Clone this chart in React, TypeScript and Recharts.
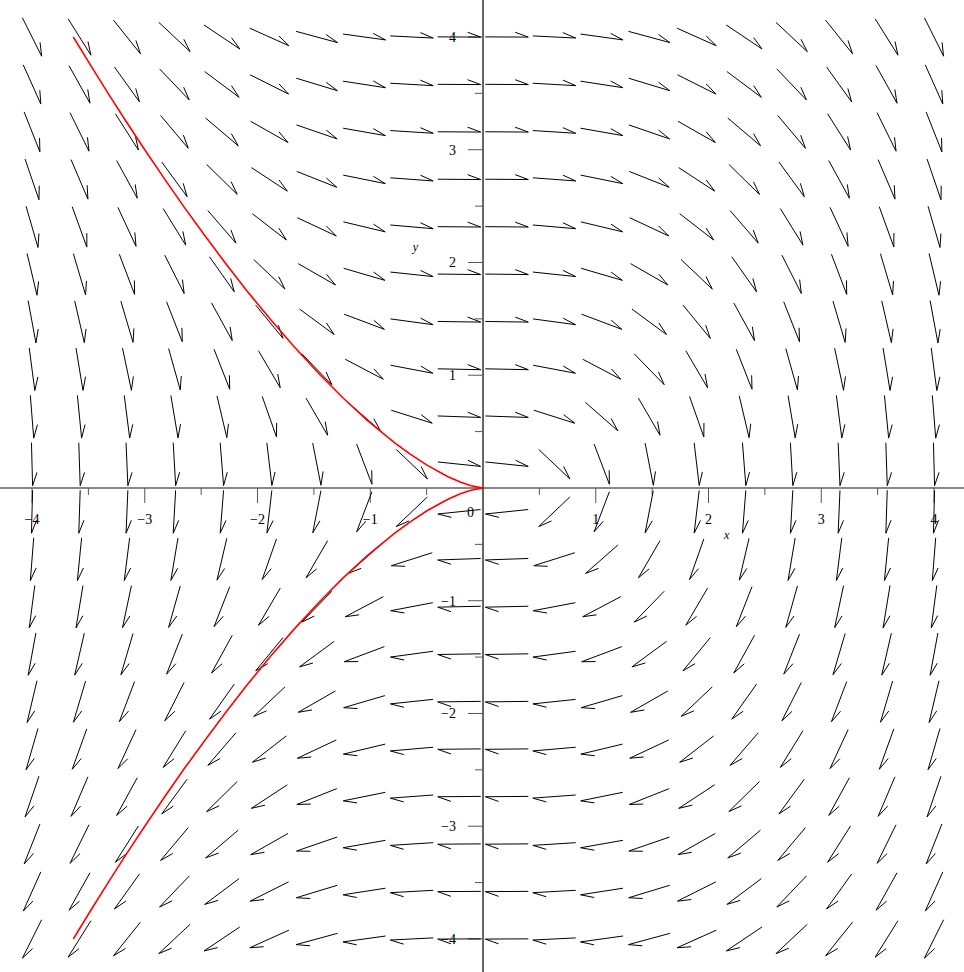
import React from 'react';
import { ScatterChart, Scatter, XAxis, YAxis, ReferenceLine } from 'recharts';

// grid points of the direction field
const gridX = [-4, -3.579, -3.158, -2.737, -2.316, -1.895, -1.474, -1.053, -0.632, -0.211, 0.211, 0.632, 1.053, 1.474, 1.895, 2.316, 2.737, 3.158, 3.579, 4];
const gridY = [4, 3.579, 3.158, 2.737, 2.316, 1.895, 1.474, 1.053, 0.632, 0.211, -0.211, -0.632, -1.053, -1.474, -1.895, -2.316, -2.737, -3.158, -3.579, -4];

// field components: horizontal part per row, vertical part per column
const rowDx = [4, 3.579, 3.158, 2.737, 2.316, 1.895, 1.474, 1.053, 0.632, 0.211, -0.211, -0.632, -1.053, -1.474, -1.895, -2.316, -2.737, -3.158, -3.579, -4];
const colDy = [-8, -6.404, -4.986, -3.746, -2.682, -1.795, -1.086, -0.554, -0.2, -0.022, -0.022, -0.2, -0.554, -1.086, -1.795, -2.682, -3.746, -4.986, -6.404, -8];

// red solution curve
const curveX = [-3.634, -3.481, -3.325, -3.165, -3.0, -2.831, -2.657, -2.476, -2.289, -2.095, -1.89, -1.673, -1.442, -1.243, -1.026, -0.783, -0.646, -0.493, -0.311, -0.196, -0.106, 0,
  -0.106, -0.196, -0.311, -0.493, -0.646, -0.783, -1.026, -1.243, -1.442, -1.673, -1.89, -2.095, -2.289, -2.476, -2.657, -2.831, -3.0, -3.165, -3.325, -3.481, -3.634];
const curveY = [4, 3.75, 3.5, 3.25, 3, 2.75, 2.5, 2.25, 2, 1.75, 1.5, 1.25, 1, 0.8, 0.6, 0.4, 0.3, 0.2, 0.1, 0.05, 0.02, 0,
  -0.02, -0.05, -0.1, -0.2, -0.3, -0.4, -0.6, -0.8, -1, -1.25, -1.5, -1.75, -2, -2.25, -2.5, -2.75, -3, -3.25, -3.5, -3.75, -4];

// ticks
const xMajorTicks = [-4, -3, -2, -1, 1, 2, 3, 4];
const xTickLabels = ['\u22124', '\u22123', '\u22122', '\u22121', '1', '2', '3', '4'];
const xMinorTicks = [-3.5, -2.5, -1.5, -0.5, 0.5, 1.5, 2.5, 3.5];
const yMajorTicks = [4, 3, 2, 1, -1, -2, -3, -4];
const yTickLabels = ['4', '3', '2', '1', '\u22121', '\u22122', '\u22123', '\u22124'];
const yMinorTicks = [3.5, 2.5, 1.5, 0.5, -0.5, -1.5, -2.5, -3.5];

const FONT = '"Liberation Serif", "Times New Roman", serif';

const arrows = gridY.flatMap((y, j) =>
  gridX.map((x, i) => ({ x, y, u: rowDx[j], v: colDy[i] }))
);
const curve = curveX.map((x, i) => ({ x, y: curveY[i] }));
const xMajor = xMajorTicks.map((x, i) => ({ x, y: 0, label: xTickLabels[i] }));
const xMinor = xMinorTicks.map((x) => ({ x, y: 0 }));
const yMajor = yMajorTicks.map((y, i) => ({ x: 0, y, label: yTickLabels[i] }));
const yMinor = yMinorTicks.map((y) => ({ x: 0, y }));
const axisNames = [
  { x: 2.16, y: -0.45, label: 'x' },
  { x: -0.6, y: 2.1, label: 'y' },
];
const origin = [{ x: 0, y: 0, label: '0' }];

const ARROW_LEN = 43;
const BARB_LEN = 14;
const BARB_ANG = (20 * Math.PI) / 180;

const Arrow = (props: any) => {
  const { cx, cy, payload } = props;
  if (cx == null || cy == null) return <g />;
  const sx = payload.u;
  const sy = -payload.v;
  const n = Math.hypot(sx, sy) || 1;
  const dx = sx / n;
  const dy = sy / n;
  const x1 = cx - (dx * ARROW_LEN) / 2;
  const y1 = cy - (dy * ARROW_LEN) / 2;
  const x2 = cx + (dx * ARROW_LEN) / 2;
  const y2 = cy + (dy * ARROW_LEN) / 2;
  const bx = -dx;
  const by = -dy;
  const rx = bx * Math.cos(BARB_ANG) - by * Math.sin(BARB_ANG);
  const ry = bx * Math.sin(BARB_ANG) + by * Math.cos(BARB_ANG);
  return (
    <g stroke="#000" strokeWidth={1} fill="none">
      <line x1={x1} y1={y1} x2={x2} y2={y2} />
      <line x1={x2} y1={y2} x2={x2 + rx * BARB_LEN} y2={y2 + ry * BARB_LEN} />
    </g>
  );
};

const XMajorTick = (props: any) => {
  const { cx, cy, payload } = props;
  return (
    <g>
      <line x1={cx} y1={cy} x2={cx} y2={cy + 15} stroke="#555" strokeWidth={1} />
      <text x={cx} y={cy + 36} textAnchor="middle" fontFamily={FONT} fontSize={14} fill="#000">
        {payload.label}
      </text>
    </g>
  );
};

const XMinorTick = (props: any) => {
  const { cx, cy } = props;
  return <line x1={cx} y1={cy} x2={cx} y2={cy + 7} stroke="#555" strokeWidth={1} />;
};

const YMajorTick = (props: any) => {
  const { cx, cy, payload } = props;
  return (
    <g>
      <line x1={cx - 15} y1={cy} x2={cx} y2={cy} stroke="#555" strokeWidth={1} />
      <text x={cx - 27} y={cy + 5} textAnchor="end" fontFamily={FONT} fontSize={14} fill="#000">
        {payload.label}
      </text>
    </g>
  );
};

const YMinorTick = (props: any) => {
  const { cx, cy } = props;
  return <line x1={cx - 8} y1={cy} x2={cx} y2={cy} stroke="#555" strokeWidth={1} />;
};

const NameLabel = (props: any) => {
  const { cx, cy, payload } = props;
  return (
    <text x={cx} y={cy} textAnchor="middle" fontFamily={FONT} fontStyle="italic" fontSize={12} fill="#000">
      {payload.label}
    </text>
  );
};

const OriginLabel = (props: any) => {
  const { cx, cy, payload } = props;
  return (
    <text x={cx - 12.5} y={cy + 29} textAnchor="middle" fontFamily={FONT} fontSize={14} fill="#000">
      {payload.label}
    </text>
  );
};

const App: React.FC = () => {
  return (
    <div style={{ position: 'absolute', left: 0, top: 0, background: '#fff' }}>
      <ScatterChart width={964} height={972} margin={{ top: 0, right: 0, bottom: 0, left: 0 }}>
        <XAxis type="number" dataKey="x" domain={[-4.284, 4.266]} allowDataOverflow hide />
        <YAxis type="number" dataKey="y" domain={[-4.293, 4.328]} allowDataOverflow hide />
        <ReferenceLine y={0} stroke="#888" strokeWidth={2} />
        <ReferenceLine x={0} stroke="#000" strokeWidth={1.2} />
        <Scatter data={xMinor} shape={XMinorTick} isAnimationActive={false} />
        <Scatter data={xMajor} shape={XMajorTick} isAnimationActive={false} />
        <Scatter data={yMinor} shape={YMinorTick} isAnimationActive={false} />
        <Scatter data={yMajor} shape={YMajorTick} isAnimationActive={false} />
        <Scatter data={origin} shape={OriginLabel} isAnimationActive={false} />
        <Scatter data={axisNames} shape={NameLabel} isAnimationActive={false} />
        <Scatter data={arrows} shape={Arrow} isAnimationActive={false} />
        <Scatter
          data={curve}
          line={{ stroke: '#ff0000', strokeWidth: 1.6 }}
          lineType="joint"
          shape={() => <g />}
          isAnimationActive={false}
        />
      </ScatterChart>
    </div>
  );
};

export default App;
